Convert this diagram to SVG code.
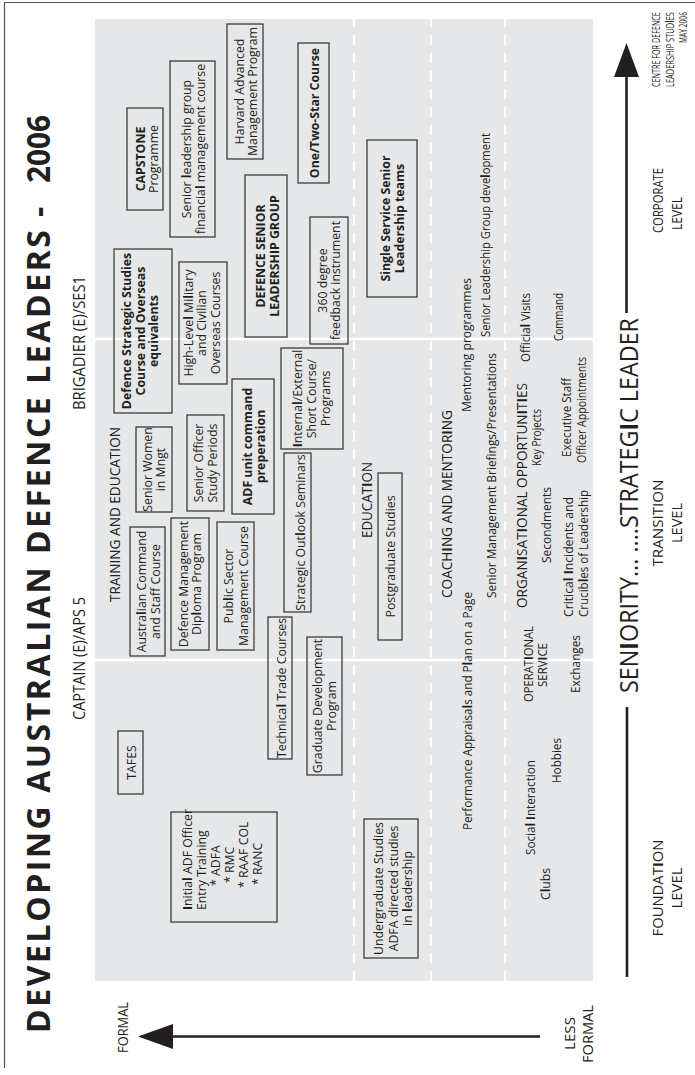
<svg xmlns="http://www.w3.org/2000/svg" width="695" height="1075" viewBox="0 0 695 1075">
<style>
text{font-family:"Open Sans","Noto Sans","Liberation Sans",sans-serif;fill:#231f20}
.t{font-size:12.3px;text-anchor:middle}
.l{font-size:12.3px}
.h{font-size:14px}
.lv{font-size:15px}
.c{text-anchor:middle}
.bd{font-weight:700}
.k{font-weight:700}
.cr{font-size:11.5px}
.bx{fill:none;stroke:#3c3c3c;stroke-width:1.3}
.sep{stroke:#fff;stroke-width:2.5}
.dash{stroke:#fff;stroke-width:2;stroke-dasharray:10 8;fill:none}
.ax{stroke:#231f20;stroke-width:2.6;fill:none}
.hd{fill:#231f20}
</style>
<rect width="695" height="1075" fill="#fff"/>
<path d="M4.5 2V1068M4 2.5H695" stroke="#555" stroke-width="1.2" fill="none"/>

<!-- landscape sheet, rotated so it reads bottom to top -->
<g transform="matrix(0,-1,1,0,0,1075)">
  <!-- background panel, level separators and band dividers -->
  <rect x="94" y="95" width="962" height="498" fill="#e6e7e8"/>
  <path class="sep" d="M415 95V593M736 95V593"/>
  <path class="dash" d="M94 354H1056M94 431H1056M94 505H1056"/>

  <!-- title -->
  <g id="title">
    <text x="42" y="50" font-size="32" font-weight="700" textLength="803" lengthAdjust="spacing">DEVELOPING AUSTRALIAN DEFENCE LEADERS</text>
    <text x="858" y="50" font-size="32" font-weight="700">-</text>
    <text x="892" y="50" font-size="32" font-weight="700" textLength="68" lengthAdjust="spacingAndGlyphs">2006</text>
  </g>

  <!-- rank markers -->
  <text x="355" y="85" font-size="17" textLength="123" lengthAdjust="spacingAndGlyphs">CAPTAIN (E)/APS 5</text>
  <text x="665" y="85" font-size="17" textLength="134" lengthAdjust="spacingAndGlyphs">BRIGADIER (E)/SES1</text>

  <!-- section headings -->
  <text class="h" x="473" y="120" textLength="175" lengthAdjust="spacingAndGlyphs">TRAINING AND EDUCATION</text>
  <text class="h" x="537" y="372" textLength="76" lengthAdjust="spacingAndGlyphs">EDUCAT<tspan class="k">I</tspan>ON</text>
  <text class="h" x="477" y="452" textLength="188" lengthAdjust="spacingAndGlyphs">COACH<tspan class="k">I</tspan>NG AND MENTOR<tspan class="k">I</tspan>NG</text>
  <text class="h" x="467" y="527" textLength="225" lengthAdjust="spacingAndGlyphs">ORGAN<tspan class="k">I</tspan>SAT<tspan class="k">I</tspan>ONAL OPPORTUN<tspan class="k">I</tspan>T<tspan class="k">I</tspan>ES</text>

  <!-- training and education nodes -->
  <g id="capstone">
    <rect class="bx" x="865" y="127" width="102" height="36"/>
    <text class="t bd" x="916" y="144.5">CAPSTONE</text>
    <text class="t" x="916" y="157.5">Programme</text>
  </g>
  <g id="slg-finance">
    <rect class="bx" x="838" y="170" width="176" height="45"/>
    <text class="t" x="926" y="190.5">Senior <tspan class="k">l</tspan>eadership group</text>
    <text class="t" x="926" y="204.5">financia<tspan class="k">l</tspan> management course</text>
  </g>
  <g id="harvard">
    <rect class="bx" x="916" y="227" width="135" height="36"/>
    <text class="t" x="983.5" y="243.5">Harvard Advanced</text>
    <text class="t" x="983.5" y="257">Management Program</text>
  </g>
  <g id="one-two-star">
    <rect class="bx" x="892" y="298" width="140" height="31"/>
    <text class="t bd" x="962" y="319">One/Two-Star Course</text>
  </g>
  <g id="dslg">
    <rect class="bx" x="738" y="245" width="162" height="42"/>
    <text class="t bd" x="819" y="264.5">DEFENCE SENIOR</text>
    <text class="t bd" x="819" y="278.5">LEADERSHIP GROUP</text>
  </g>
  <g id="feedback-360">
    <rect class="bx" x="731" y="310" width="127" height="38"/>
    <text class="t" x="794.5" y="326.5">360 degree</text>
    <text class="t" x="794.5" y="340">feedback instrument</text>
  </g>
  <g id="dss">
    <rect class="bx" x="662" y="114" width="164" height="58"/>
    <text class="t bd" x="744" y="131">Defence Strategic Studies</text>
    <text class="t bd" x="744" y="144.5">Course and Overseas</text>
    <text class="t bd" x="744" y="158">equivalents</text>
  </g>
  <g id="high-level">
    <rect class="bx" x="691" y="179" width="122" height="48"/>
    <text class="t" x="752" y="192.5">High-Leve<tspan class="k">l</tspan> Mi<tspan class="k">l</tspan>itary</text>
    <text class="t" x="752" y="206">and Civilian</text>
    <text class="t" x="752" y="219.5">Overseas Courses</text>
  </g>
  <g id="adf-unit">
    <rect class="bx" x="561" y="232" width="135" height="42"/>
    <text class="t bd" x="628.5" y="251.5">ADF unit command</text>
    <text class="t bd" x="628.5" y="265">preperation</text>
  </g>
  <g id="short-courses">
    <rect class="bx" x="626" y="281" width="101" height="62"/>
    <text class="t" x="676.5" y="302"><tspan class="k">I</tspan>nterna<tspan class="k">l</tspan>/External</text>
    <text class="t" x="676.5" y="316">Short Course/</text>
    <text class="t" x="676.5" y="330">Programs</text>
  </g>
  <g id="senior-women">
    <rect class="bx" x="563" y="136" width="85" height="36"/>
    <text class="t" x="605.5" y="152">Senior Women</text>
    <text class="t" x="605.5" y="165">in Mngt</text>
  </g>
  <g id="senior-officer">
    <rect class="bx" x="564" y="187" width="96" height="37"/>
    <text class="t" x="612" y="203">Senior Officer</text>
    <text class="t" x="612" y="216.5">Study Periods</text>
  </g>
  <g id="outlook">
    <rect class="bx" x="463" y="284" width="159" height="27"/>
    <text class="t" x="542.5" y="305">Strategic Out<tspan class="k">l</tspan>ook Seminars</text>
  </g>
  <g id="acsc">
    <rect class="bx" x="419" y="130" width="129" height="35"/>
    <text class="t" x="483.5" y="146">Austra<tspan class="k">l</tspan>ian Command</text>
    <text class="t" x="483.5" y="159.5">and Staff Course</text>
  </g>
  <g id="dmdp">
    <rect class="bx" x="425" y="171" width="132" height="38"/>
    <text class="t" x="491" y="187.5">Defence Management</text>
    <text class="t" x="491" y="201">Dip<tspan class="k">l</tspan>oma Program</text>
  </g>
  <g id="public-sector">
    <rect class="bx" x="425" y="217" width="128" height="37"/>
    <text class="t" x="489" y="232.5">Pub<tspan class="k">l</tspan>ic Sector</text>
    <text class="t" x="489" y="248">Management Course</text>
  </g>
  <g id="trade">
    <rect class="bx" x="316" y="268" width="142" height="24"/>
    <text class="t" x="387" y="285.5">Technica<tspan class="k">l</tspan> Trade Courses</text>
  </g>
  <g id="graduate">
    <rect class="bx" x="300" y="307" width="138" height="35"/>
    <text class="t" x="369" y="322">Graduate Development</text>
    <text class="t" x="369" y="335.5">Program</text>
  </g>
  <g id="tafes">
    <rect class="bx" x="281" y="118" width="63" height="25"/>
    <text class="t" x="312.5" y="135.5">TAFES</text>
  </g>
  <g id="entry-training">
    <rect class="bx" x="153" y="171" width="110" height="106"/>
    <text class="l" x="165" y="192"><tspan class="k">I</tspan>nitia<tspan class="k">l</tspan> ADF Officer</text>
    <text class="l" x="165" y="206">Entry Training</text>
    <text class="l" x="189" y="219.5">* ADFA</text>
    <text class="l" x="192" y="233.5">* RMC</text>
    <text class="l" x="187" y="248">* RAAF COL</text>
    <text class="l" x="190" y="262">* RANC</text>
  </g>

  <!-- education nodes -->
  <g id="undergraduate">
    <rect class="bx" x="117" y="364" width="139" height="54"/>
    <text class="t" x="186.5" y="383">Undergraduate Studies</text>
    <text class="t" x="186.5" y="397.5">ADFA directed studies</text>
    <text class="t" x="186.5" y="412">in <tspan class="k">l</tspan>eadership</text>
  </g>
  <g id="postgraduate">
    <rect class="bx" x="435" y="378" width="167" height="24"/>
    <text class="t" x="518.5" y="395">Postgraduate Studies</text>
  </g>
  <g id="single-service">
    <rect class="bx" x="778" y="367" width="157" height="50"/>
    <text class="t bd" x="856.5" y="390">Single Service Senior</text>
    <text class="t bd" x="856.5" y="404">Leadership teams</text>
  </g>

  <!-- coaching and mentoring -->
  <text class="l" x="245" y="472" textLength="238" lengthAdjust="spacingAndGlyphs">Performance Appraisa<tspan class="k">l</tspan>s and P<tspan class="k">l</tspan>an on a Page</text>
  <text class="l" x="663" y="470.5" textLength="134" lengthAdjust="spacingAndGlyphs">Mentoring programmes</text>
  <text class="l" x="477" y="496" textLength="245" lengthAdjust="spacingAndGlyphs">Senior Management Briefings/Presentations</text>
  <text class="l" x="738" y="490" textLength="204" lengthAdjust="spacingAndGlyphs">Senior Leadership Group deve<tspan class="k">l</tspan>opment</text>

  <!-- organisational opportunities -->
  <text class="l" x="373" y="533" textLength="76" lengthAdjust="spacingAndGlyphs">OPERAT<tspan class="k">I</tspan>ONAL</text>
  <text class="l" x="388" y="547" textLength="44" lengthAdjust="spacingAndGlyphs">SERV<tspan class="k">I</tspan>CE</text>
  <text class="l" x="382" y="579.5" textLength="58" lengthAdjust="spacingAndGlyphs">Exchanges</text>
  <text class="l" x="220" y="535" textLength="95" lengthAdjust="spacingAndGlyphs">Socia<tspan class="k">l</tspan> <tspan class="k">I</tspan>nteraction</text>
  <text class="l" x="292" y="561" textLength="45" lengthAdjust="spacingAndGlyphs">Hobbies</text>
  <text class="l" x="175" y="550" textLength="32" lengthAdjust="spacingAndGlyphs">C<tspan class="k">l</tspan>ubs</text>
  <text class="l" x="609" y="540.5" textLength="57" lengthAdjust="spacingAndGlyphs">Key Projects</text>
  <text class="l" x="512" y="551" textLength="76" lengthAdjust="spacingAndGlyphs">Secondments</text>
  <text class="l" x="618" y="571" textLength="79" lengthAdjust="spacingAndGlyphs">Executive Staff</text>
  <text class="l" x="612" y="586" textLength="106" lengthAdjust="spacingAndGlyphs">Officer Appointments</text>
  <text class="l" x="458" y="573" textLength="120" lengthAdjust="spacingAndGlyphs">Critica<tspan class="k">l</tspan> <tspan class="k">I</tspan>ncidents and</text>
  <text class="l" x="458" y="588" textLength="127" lengthAdjust="spacingAndGlyphs">Crucib<tspan class="k">l</tspan>es of Leadership</text>
  <text class="l" x="713" y="529.5" textLength="69" lengthAdjust="spacingAndGlyphs">Officia<tspan class="k">l</tspan> Visits</text>
  <text class="l" x="734" y="563" textLength="48" lengthAdjust="spacingAndGlyphs">Command</text>

  <!-- seniority axis -->
  <g id="seniority-axis">
    <path class="ax" d="M98 627H368M762 626.5H999"/>
    <polygon class="hd" points="998,614 1032,626.5 998,639"/>
    <text x="382" y="638" font-size="25" textLength="375" lengthAdjust="spacingAndGlyphs">SEN<tspan class="k">I</tspan>ORITY... ....STRATEG<tspan class="k">I</tspan>C LEADER</text>
  </g>

  <!-- level labels -->
  <text class="lv c" x="187" y="663" textLength="97" lengthAdjust="spacingAndGlyphs">FOUNDAT<tspan class="k">I</tspan>ON</text>
  <text class="lv c" x="187" y="682" textLength="41" lengthAdjust="spacingAndGlyphs">LEVEL</text>
  <text class="lv c" x="552" y="663" textLength="87" lengthAdjust="spacingAndGlyphs">TRANSITION</text>
  <text class="lv c" x="552" y="682" textLength="40" lengthAdjust="spacingAndGlyphs">LEVEL</text>
  <text class="lv" x="842" y="663" textLength="65" lengthAdjust="spacingAndGlyphs">CORPORATE</text>
  <text class="lv" x="845" y="682" textLength="33" lengthAdjust="spacingAndGlyphs">LEVEL</text>

  <!-- credit, set in a narrowed face -->
  <g id="credit">
    <text class="cr" transform="translate(988 660) scale(0.64 1)" textLength="117" lengthAdjust="spacingAndGlyphs">CENTRE FOR DEFENCE</text>
    <text class="cr" transform="translate(988 673.5) scale(0.64 1)" textLength="117" lengthAdjust="spacingAndGlyphs">LEADERSHIP STUD<tspan class="k">I</tspan>ES</text>
    <text class="cr" transform="translate(1032 687) scale(0.64 1)" textLength="48.4" lengthAdjust="spacingAndGlyphs">MAY 2006</text>
  </g>

  <!-- formality axis -->
  <g id="formality-axis">
    <path class="ax" d="M38.5 172V540"/>
    <polygon class="hd" points="26,173 38.5,138 51,173"/>
    <text class="h c" x="47.5" y="128" textLength="51" lengthAdjust="spacingAndGlyphs">FORMAL</text>
    <text class="lv c" x="41.5" y="575" textLength="33" lengthAdjust="spacingAndGlyphs">LESS</text>
    <text class="lv c" x="41" y="593" textLength="58" lengthAdjust="spacingAndGlyphs">FORMAL</text>
  </g>
</g>
</svg>
